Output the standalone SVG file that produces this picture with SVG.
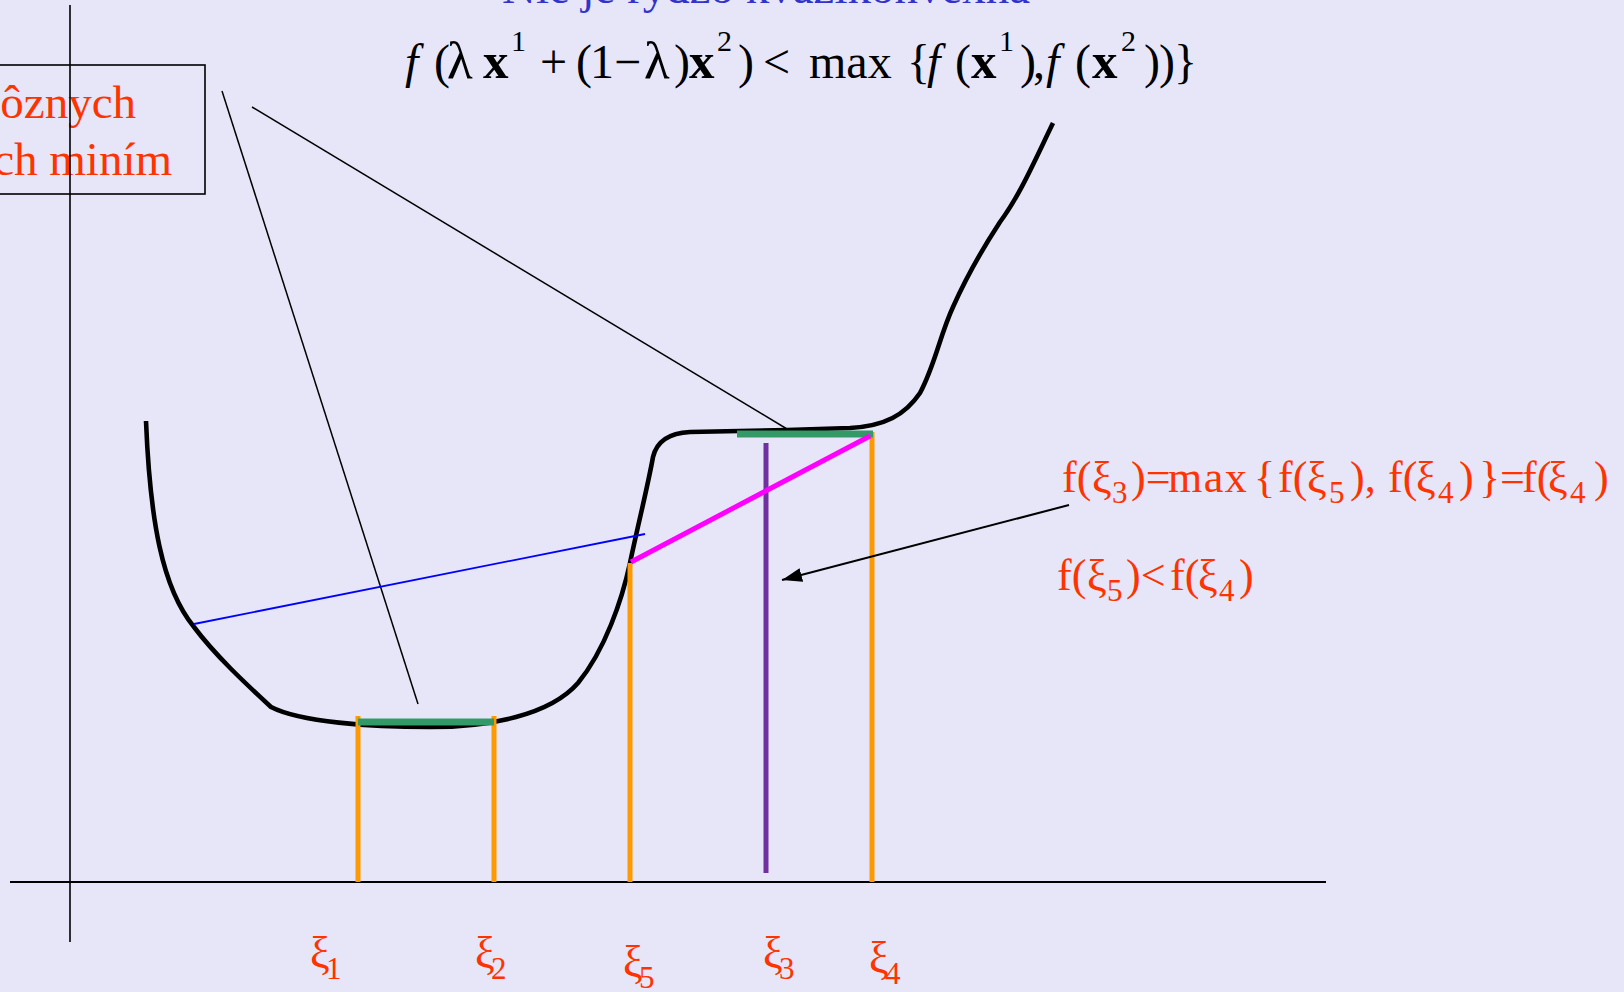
<svg xmlns="http://www.w3.org/2000/svg" width="1624" height="992" viewBox="0 0 1624 992">
<defs>
<style>
.math{font-family:"Liberation Serif","Times New Roman",serif;font-size:48px;fill:#000}
.sup{font-size:30px}
.bx{font-weight:bold;font-size:51px}
.lam{font-size:53px}
.red{font-family:"Liberation Serif","Times New Roman",serif;font-size:44px;fill:#FF3300}
.boxtext{font-size:47px}
.sub{font-size:31px}
.title{font-family:"Liberation Serif","Times New Roman",serif;font-size:47px;fill:#3333CC}
.axis{stroke:#000;fill:none}
.curve{stroke:#000;stroke-width:4.6;fill:none;stroke-linejoin:round;stroke-linecap:butt}
.thin{stroke:#000;stroke-width:1.5;fill:none}
.orange{stroke:#FF9900;stroke-width:5}
.green{stroke:#339966;stroke-width:7}
.purple{stroke:#7030A0;stroke-width:5}
.magenta{stroke:#FF00FF;stroke-width:5}
.blue{stroke:#0000FF;stroke-width:1.8}
</style>
<marker id="arrowBig" viewBox="0 0 20 14" refX="20" refY="7" markerWidth="20" markerHeight="14" markerUnits="userSpaceOnUse" orient="auto">
<path d="M0,0 L20,7 L0,14 z" fill="#000"/>
</marker>
</defs>
<rect x="0" y="0" width="1624" height="992" fill="#E6E6F8"/>

<g id="title">
<text class="title" x="502" y="3" textLength="528" lengthAdjust="spacingAndGlyphs">Nie je rýdzo kvázikonvexná</text>
</g>

<g id="formula">
<text class="math" y="78"><tspan x="405" font-style="italic">f</tspan><tspan x="434">(</tspan><tspan x="447" class="lam">λ</tspan><tspan x="483" class="bx">x</tspan><tspan x="511" y="51" class="sup">1</tspan><tspan x="540" y="78">+</tspan><tspan x="576">(</tspan><tspan x="590">1</tspan><tspan x="614">−</tspan><tspan x="644" class="lam">λ</tspan><tspan x="674">)</tspan><tspan x="689" class="bx">x</tspan><tspan x="717" y="51" class="sup">2</tspan><tspan x="738" y="78">)</tspan><tspan x="763">&lt;</tspan><tspan x="809">max</tspan><tspan x="907">{</tspan><tspan x="927" font-style="italic">f</tspan><tspan x="955">(</tspan><tspan x="971" class="bx">x</tspan><tspan x="999" y="51" class="sup">1</tspan><tspan x="1020" y="78">)</tspan><tspan x="1033">,</tspan><tspan x="1046" font-style="italic">f</tspan><tspan x="1075">(</tspan><tspan x="1092" class="bx">x</tspan><tspan x="1121" y="51" class="sup">2</tspan><tspan x="1144" y="78">)</tspan><tspan x="1159">)</tspan><tspan x="1174">}</tspan></text>
</g>

<g id="box">
<rect x="-5" y="65" width="210" height="129" fill="none" stroke="#000" stroke-width="1.6"/>
<text class="red boxtext" x="136" y="118" text-anchor="end">ôznych</text>
<text class="red boxtext" x="172" y="175" text-anchor="end">ch miním</text>
</g>

<g id="axes">
<line class="axis" x1="10" y1="882" x2="1326" y2="882" stroke-width="2.2"/>
<line class="axis" x1="70" y1="5" x2="70" y2="942" stroke-width="1.6"/>
</g>

<g id="function-curve">
<path class="curve" d="M146,421 C150,520 162,588 194,627 C215,655 245,683 271,707 C300,722 370,727 430,727 C490,727 550,715 578,683 C605,650 622,600 630,563 C638,525 648,485 653,457 C657,440 670,433 690,432 L787,430 L850,428 C885,426 905,415 920,393 C935,365 940,335 953,307 C965,280 985,245 1000,222 C1020,195 1035,160 1053,123"/>
</g>

<g id="connectors">
<line class="thin" x1="222" y1="91" x2="418" y2="704"/>
<line class="thin" x1="252" y1="107" x2="787" y2="429"/>
<line class="blue" x1="194" y1="624" x2="645" y2="534"/>
<line class="orange" x1="358" y1="716" x2="358" y2="882"/>
<line class="orange" x1="494" y1="716" x2="494" y2="882"/>
<line class="orange" x1="630" y1="563" x2="630" y2="882"/>
<line class="orange" x1="872" y1="432" x2="872" y2="882"/>
<line class="green" x1="358" y1="722" x2="494" y2="722"/>
<line class="green" x1="737" y1="434" x2="873" y2="434"/>
<line class="purple" x1="766" y1="443" x2="766" y2="873"/>
<line class="magenta" x1="631" y1="562" x2="870" y2="436"/>
<line x1="1069" y1="505" x2="782" y2="580" stroke="#000" stroke-width="2" marker-end="url(#arrowBig)"/>
</g>

<g id="label-max">
<text class="red" y="492"><tspan x="1062">f(</tspan><tspan x="1092">ξ</tspan><tspan x="1112" y="503" class="sub">3</tspan><tspan x="1131" y="492">)=</tspan><tspan x="1168" letter-spacing="1.5">max</tspan><tspan x="1254">{</tspan><tspan x="1278">f(</tspan><tspan x="1307">ξ</tspan><tspan x="1329" y="503" class="sub">5</tspan><tspan x="1350" y="492">),</tspan><tspan x="1388">f(</tspan><tspan x="1416">ξ</tspan><tspan x="1438" y="503" class="sub">4</tspan><tspan x="1459" y="492">)</tspan><tspan x="1479">}=</tspan><tspan x="1522">f(</tspan><tspan x="1548">ξ</tspan><tspan x="1570" y="503" class="sub">4</tspan><tspan x="1594" y="492">)</tspan></text>
</g>

<g id="label-less">
<text class="red" y="590"><tspan x="1057">f(</tspan><tspan x="1087">ξ</tspan><tspan x="1107" y="601" class="sub">5</tspan><tspan x="1126" y="590">)&lt;</tspan><tspan x="1170">f(</tspan><tspan x="1198">ξ</tspan><tspan x="1219" y="601" class="sub">4</tspan><tspan x="1239" y="590">)</tspan></text>
</g>

<g id="xi-labels">
<text class="red" x="310" y="967">ξ<tspan x="326" y="979" class="sub">1</tspan></text>
<text class="red" x="475" y="967">ξ<tspan x="491" y="979" class="sub">2</tspan></text>
<text class="red" x="623" y="976">ξ<tspan x="639" y="988" class="sub">5</tspan></text>
<text class="red" x="763" y="967">ξ<tspan x="779" y="979" class="sub">3</tspan></text>
<text class="red" x="869" y="972">ξ<tspan x="885" y="984" class="sub">4</tspan></text>
</g>
</svg>
